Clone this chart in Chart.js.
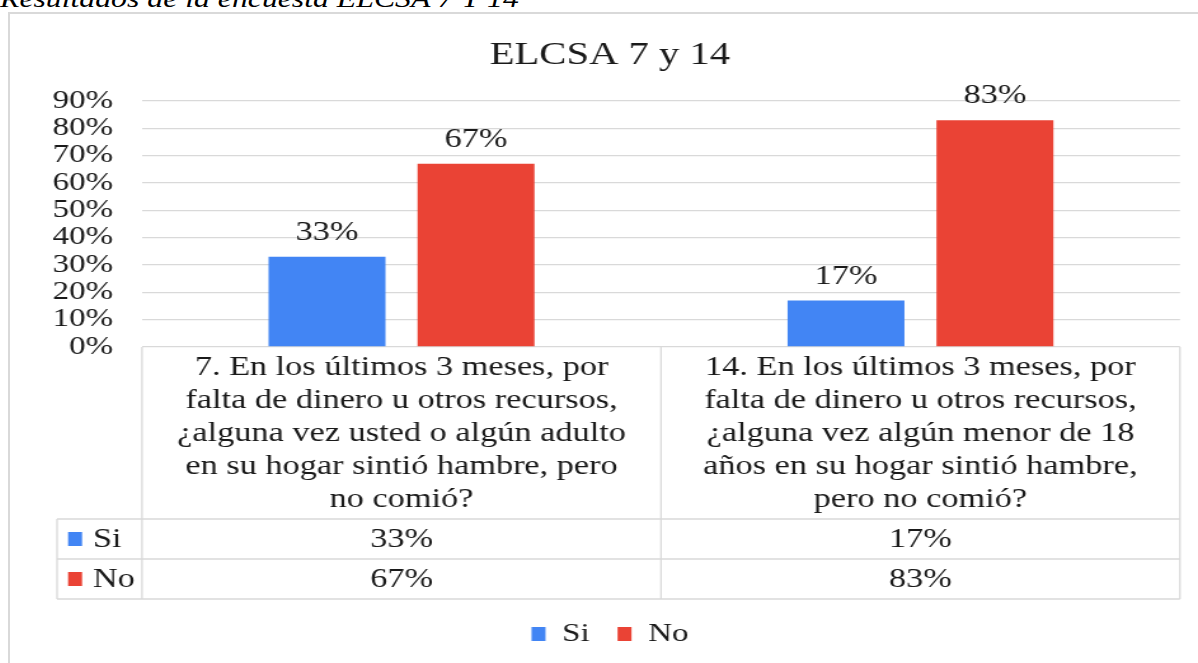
<!DOCTYPE html>
<html>
<head>
<meta charset="utf-8">
<script src="https://cdn.jsdelivr.net/npm/chart.js@4.4.1/dist/chart.umd.min.js"></script>
<style>
    body { margin: 0; background: #fff; width: 1198px; height: 663px; overflow: hidden; position: relative; font-family: "Liberation Serif", serif; }
    #caption { position: absolute; left: 0; top: -15px; font-style: italic; font-size: 25px; line-height: 28px; color: #000; white-space: nowrap; transform: scaleX(1.27); transform-origin: 0 0; }
    #frame { position: absolute; left: 8px; top: 12px; width: 1300px; height: 700px; border-left: 2px solid #d9d9d9; border-top: 2px solid #d9d9d9; }
    /* the source picture is stretched sideways, so the chart is drawn narrower and widened */
    #wrap { position: absolute; left: 10px; top: 14px; width: 935px; height: 649px; transform: scaleX(1.27059); transform-origin: 0 0; }
</style>
</head>
<body>
<div id="caption">Resultados de la encuesta ELCSA 7 Y 14</div>
<div id="frame"></div>
<div id="wrap"><canvas id="elcsaChart"></canvas></div>
<script>
// ===== Data =====
const categories = [
    ['7. En los últimos 3 meses, por', 'falta de dinero u otros recursos,', '¿alguna vez usted o algún adulto', 'en su hogar sintió hambre, pero', 'no comió?'],
    ['14. En los últimos 3 meses, por', 'falta de dinero u otros recursos,', '¿alguna vez algún menor de 18', 'años en su hogar sintió hambre,', 'pero no comió?']
];
const seriesNames = ['Si', 'No'];
const siValues = [33, 17];
const noValues = [67, 83];
const yTickMax = 90;
const yTickStep = 10;

const colors = ['#4285F4', '#EA4335'];
const FONT = '"Liberation Serif", "Times New Roman", serif';
const TEXT = '#1a1a1a';
const LINE = '#d9d9d9';

// Data table under the plot + value labels above the bars
const tablePlugin = {
    id: 'dataTable',
    afterDraw(chart) {
        const ctx = chart.ctx;
        const area = chart.chartArea;
        const xScale = chart.scales.x;
        const step = (area.right - area.left) / categories.length;
        const rowH = 40;
        const bottom = xScale.bottom;
        const rowTop = bottom - rowH * 2;
        const keyLeft = area.left - 66.9;

        ctx.save();
        ctx.strokeStyle = LINE;
        ctx.lineWidth = 1.3;
        ctx.beginPath();
        for (let i = 0; i <= categories.length; i++) {
            const x = area.left + i * step;
            ctx.moveTo(x, area.bottom);
            ctx.lineTo(x, bottom);
        }
        ctx.moveTo(keyLeft, rowTop);
        ctx.lineTo(keyLeft, bottom);
        [rowTop, rowTop + rowH, bottom].forEach(y => {
            ctx.moveTo(keyLeft, y);
            ctx.lineTo(area.right, y);
        });
        ctx.stroke();

        ctx.font = '27px ' + FONT;
        ctx.fillStyle = TEXT;
        ctx.textBaseline = 'middle';
        const rows = [siValues, noValues];
        rows.forEach((vals, r) => {
            const cy = rowTop + rowH * r + rowH / 2;
            ctx.fillStyle = colors[r];
            ctx.fillRect(keyLeft + 8.7, cy - 7, 11, 14);
            ctx.fillStyle = TEXT;
            ctx.textAlign = 'left';
            ctx.fillText(seriesNames[r], keyLeft + 28.3, cy + 1);
            ctx.textAlign = 'center';
            vals.forEach((v, i) => {
                ctx.fillText(v + '%', area.left + (i + 0.5) * step, cy + 1);
            });
        });

        // labels above bars
        chart.data.datasets.forEach((ds, d) => {
            chart.getDatasetMeta(d).data.forEach((bar, i) => {
                ctx.fillText(ds.data[i] + '%', bar.x, bar.y - 24);
            });
        });
        ctx.restore();
    }
};

const ctx = document.getElementById('elcsaChart').getContext('2d');
new Chart(ctx, {
    type: 'bar',
    data: {
        labels: categories,
        datasets: [{
            label: seriesNames[0],
            data: siValues,
            backgroundColor: colors[0],
            borderWidth: 0,
            categoryPercentage: 0.574,
            barPercentage: 0.785
        }, {
            label: seriesNames[1],
            data: noValues,
            backgroundColor: colors[1],
            borderWidth: 0,
            categoryPercentage: 0.574,
            barPercentage: 0.785
        }]
    },
    options: {
        responsive: true,
        maintainAspectRatio: false,
        animation: false,
        layout: { padding: { left: 23.6, right: 14.2, top: 0, bottom: 6 } },
        plugins: {
            title: {
                display: true,
                text: 'ELCSA 7 y 14',
                color: TEXT,
                font: { family: FONT, size: 32, weight: 'normal' },
                padding: { top: 22, bottom: 26.6 }
            },
            legend: {
                position: 'bottom',
                labels: {
                    boxWidth: 11,
                    boxHeight: 14,
                    padding: 22,
                    color: TEXT,
                    font: { family: FONT, size: 26 }
                }
            },
            tooltip: { enabled: false }
        },
        scales: {
            y: {
                min: 0,
                max: yTickMax,
                afterFit(scale) { scale.width = 80.3; },
                ticks: {
                    stepSize: yTickStep,
                    autoSkip: false,
                    padding: 22.8,
                    color: TEXT,
                    font: { family: FONT, size: 26 },
                    callback: v => v + '%'
                },
                grid: { color: LINE, lineWidth: 1.3, drawTicks: false },
                border: { display: false }
            },
            x: {
                afterFit(scale) { scale.height = 252; },
                ticks: {
                    padding: 4.5,
                    maxRotation: 0,
                    autoSkip: false,
                    color: TEXT,
                    font: { family: FONT, size: 27, lineHeight: 33 / 27 }
                },
                grid: { display: false, drawTicks: false },
                border: { display: false }
            }
        }
    },
    plugins: [tablePlugin]
});
</script>
</body>
</html>
